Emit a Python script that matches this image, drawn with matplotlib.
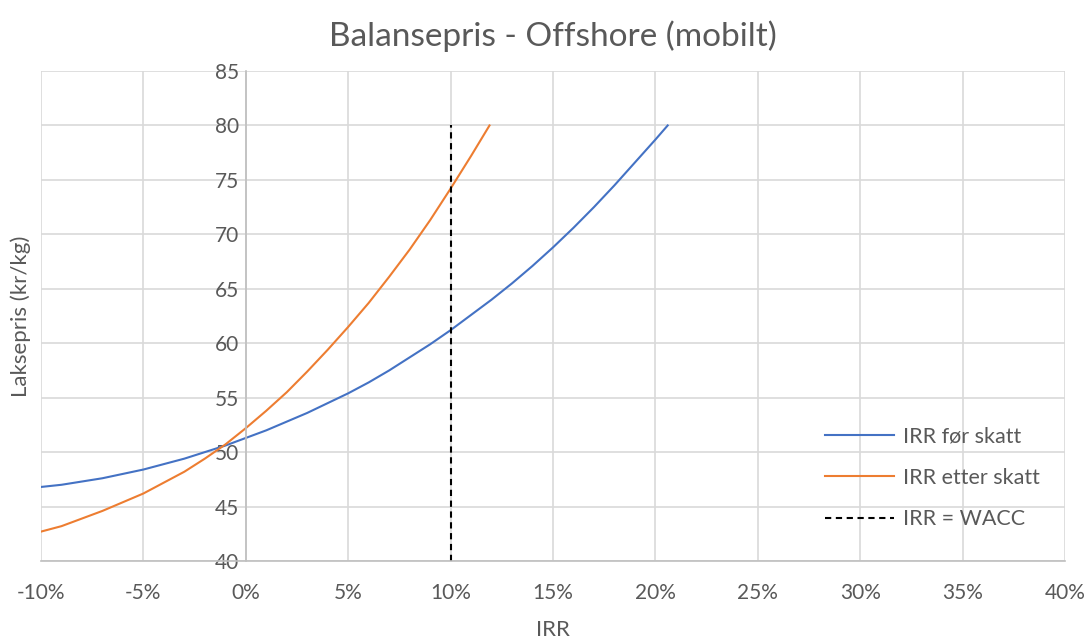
import numpy as np
import matplotlib.pyplot as plt
from matplotlib.ticker import FuncFormatter

plt.rcParams['font.family'] = ['Lato', 'DejaVu Sans']

# IRR (%) and break-even price (kr/kg)
irr_for = [-10, -9, -8, -7, -6, -5, -4, -3, -2, -1, 0, 1, 2, 3, 4, 5, 6, 7, 8, 9,
           10, 11, 12, 13, 14, 15, 16, 17, 18, 19, 20, 20.6]
pris_for = [46.8, 47.0, 47.3, 47.6, 48.0, 48.4, 48.9, 49.4, 50.0, 50.6, 51.3, 52.0,
            52.8, 53.6, 54.5, 55.4, 56.4, 57.5, 58.7, 59.9, 61.2, 62.6, 64.0, 65.5,
            67.1, 68.8, 70.6, 72.5, 74.5, 76.6, 78.7, 80.0]

irr_etter = [-10, -9, -8, -7, -6, -5, -4, -3, -2, -1, 0, 1, 2, 3, 4, 5, 6, 7, 8, 9,
             10, 11, 11.9]
pris_etter = [42.7, 43.2, 43.9, 44.6, 45.4, 46.2, 47.2, 48.2, 49.4, 50.7, 52.2, 53.8,
              55.5, 57.4, 59.4, 61.5, 63.7, 66.1, 68.6, 71.3, 74.2, 77.2, 80.0]

wacc_x = [10, 10]
wacc_y = [40, 80]

text_col = '#595959'
grid_col = '#d9d9d9'

fig = plt.figure(figsize=(10.88, 6.41), dpi=100)
ax = fig.add_axes([41 / 1088, 1 - 561 / 641, (1065 - 41) / 1088, (561 - 71) / 641])

ax.plot(irr_for, pris_for, color='#4472c4', lw=1.5, label='IRR før skatt')
ax.plot(irr_etter, pris_etter, color='#ed7d31', lw=1.5, label='IRR etter skatt')
ax.plot(wacc_x, wacc_y, color='black', lw=1.5, ls=(0, (3, 2.2)), label='IRR = WACC')

ax.set_xlim(-10, 40)
ax.set_ylim(40, 85)
ax.set_xticks(np.arange(-10, 41, 5))
ax.set_yticks(np.arange(40, 86, 5))
ax.xaxis.set_major_formatter(FuncFormatter(lambda v, p: f'{v:.0f}%'))
ax.grid(True, color=grid_col, lw=1.2)
ax.set_axisbelow(True)

for s in ['top', 'right']:
    ax.spines[s].set_visible(False)
ax.spines['left'].set_position(('data', 0))
ax.spines['left'].set_color('#bfbfbf')
ax.spines['bottom'].set_color('#bfbfbf')
ax.spines['left'].set_linewidth(1.2)
ax.spines['bottom'].set_linewidth(1.2)
ax.tick_params(length=0, labelsize=15, labelcolor=text_col)
ax.tick_params(axis='x', pad=16)
ax.tick_params(axis='y', pad=5)

ax.set_xlabel('IRR', fontsize=16, color=text_col, labelpad=12)
ax.set_ylabel('Laksepris (kr/kg)', fontsize=16, color=text_col)
ax.yaxis.set_label_coords(-0.01, 0.5)
ax.set_title('Balansepris - Offshore (mobilt)', fontsize=24, color=text_col, pad=18)

ax.legend(loc='center left', bbox_to_anchor=(0.747, 0.17), frameon=False,
          fontsize=15.5, labelcolor=text_col, handlelength=3.2, labelspacing=1.0,
          handletextpad=0.4)

fig.savefig('out.png', dpi=100)
